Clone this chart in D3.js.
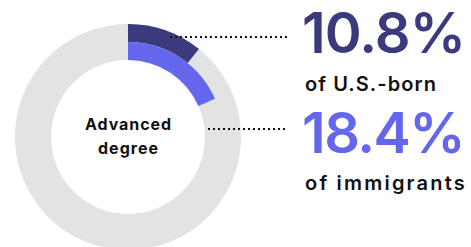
<!DOCTYPE html>
<html lang="en">
<head>
	<meta charset="utf-8" />
	<title>Advanced degree</title>
	<script src="https://d3js.org/d3.v7.min.js"></script>
	<style>
		html, body { margin: 0; padding: 0; background: #fff; }
		svg { display: block; }
	</style>
</head>
<body>
	<div id="chart"></div>
	<script>
	// data
	var groups = ["of U.S.-born", "of immigrants"];
	var shares = [10.8, 18.4];
	var shareLabels = ["10.8%", "18.4%"];
	var centerLabel = ["Advanced", "degree"];
	var colors = ["#3a3a7d", "#6466eb"];

	var width = 471, height = 247;

	var svg = d3.select("#chart")
		.append("svg")
		.attr("width", width)
		.attr("height", height);

	var cx = 128, cy = 137;
	var rOuter = 113, rInner = 77;
	var band = (rOuter - rInner) / groups.length;

	var angle = d3.scaleLinear().domain([0, 100]).range([0, 2 * Math.PI]);

	var g = svg.append("g").attr("transform", "translate(" + cx + "," + cy + ")");

	// grey track
	g.append("path")
		.attr("d", d3.arc().innerRadius(rInner).outerRadius(rOuter).startAngle(0).endAngle(2 * Math.PI)())
		.attr("fill", "#e1e4e3");

	var arc = d3.arc()
		.innerRadius(function(d, i) { return rOuter - band * (i + 1); })
		.outerRadius(function(d, i) { return rOuter - band * i; })
		.startAngle(0)
		.endAngle(function(d) { return angle(d); });

	g.selectAll("path.share")
		.data(shares)
		.enter()
		.append("path")
		.attr("class", "share")
		.attr("d", function(d, i) { return arc(d, i); })
		.attr("fill", function(d, i) { return colors[i]; });

	// widen text a bit to match the original typeface
	function fit(sel, widths, centered) {
		sel.each(function(d, i) {
			var len = this.getComputedTextLength();
			var ls = (widths[i] - len) / d.length;
			var t = d3.select(this).attr("letter-spacing", ls);
			if (centered) t.attr("dx", ls / 2);
		});
	}

	// center label
	g.selectAll("text.center")
		.data(centerLabel)
		.enter()
		.append("text")
		.attr("class", "center")
		.attr("x", 0)
		.attr("y", function(d, i) { return -7 + i * 24; })
		.attr("text-anchor", "middle")
		.attr("font-family", "Inter, sans-serif")
		.attr("font-weight", 700)
		.attr("font-size", 16)
		.attr("fill", "#111")
		.text(function(d) { return d; })
		.call(fit, [87, 61], true);

	// leader lines
	var lineY = [37, 129];
	var lineX0 = [170, 208];
	svg.selectAll("line.leader")
		.data(shares)
		.enter()
		.append("line")
		.attr("class", "leader")
		.attr("x1", function(d, i) { return lineX0[i]; })
		.attr("x2", 288)
		.attr("y1", function(d, i) { return lineY[i]; })
		.attr("y2", function(d, i) { return lineY[i]; })
		.attr("stroke", "#111")
		.attr("stroke-width", 2)
		.attr("stroke-dasharray", "2 3");

	var labelX = 302;
	var bigY = [53, 153];
	var smallY = [91, 190];

	svg.selectAll("text.big")
		.data(shareLabels)
		.enter()
		.append("text")
		.attr("class", "big")
		.attr("x", labelX)
		.attr("y", function(d, i) { return bigY[i]; })
		.attr("font-family", "Inter, sans-serif")
		.attr("font-weight", 600)
		.attr("font-size", 56)
		.attr("fill", function(d, i) { return colors[i]; })
		.text(function(d) { return d; })
		.call(fit, [163, 162]);

	svg.selectAll("text.small")
		.data(groups)
		.enter()
		.append("text")
		.attr("class", "small")
		.attr("x", labelX + 3)
		.attr("y", function(d, i) { return smallY[i]; })
		.attr("font-family", "Inter, sans-serif")
		.attr("font-weight", 600)
		.attr("font-size", 20)
		.attr("fill", "#111")
		.text(function(d) { return d; })
		.call(fit, [132, 162]);
	</script>
</body>
</html>
